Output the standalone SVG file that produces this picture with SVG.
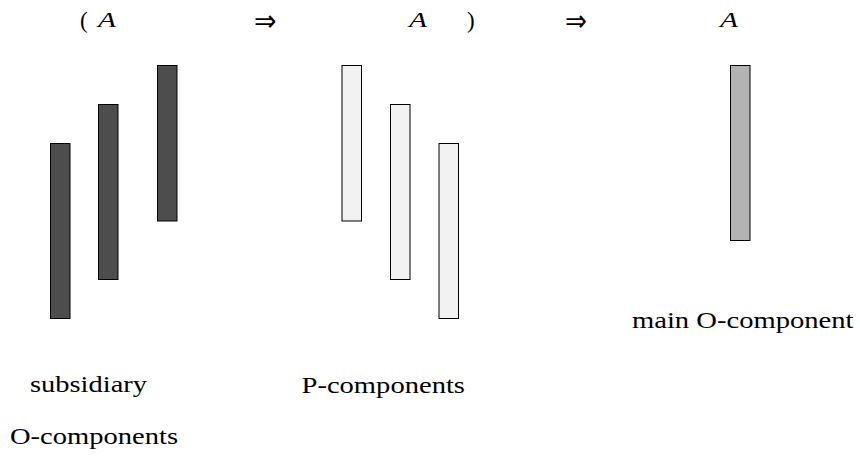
<svg xmlns="http://www.w3.org/2000/svg" width="860" height="457" viewBox="0 0 860 457">
<style>
text{font-family:"Liberation Serif","DejaVu Serif",serif;fill:#000;font-size:23px}
.m{font-style:italic;font-size:22px}
.arr{font-family:"DejaVu Sans",sans-serif;font-size:30px}
.bar{stroke:#000;stroke-width:1}
.dark{fill:#4d4d4d}
.light{fill:#f2f2f2}
.gray{fill:#b3b3b3}
</style>
<rect width="860" height="457" fill="#fff"/>
<g id="formula">
<text x="80" y="28">(</text>
<text class="m" x="98" y="27" textLength="18" lengthAdjust="spacingAndGlyphs">A</text>
<text class="arr" x="254" y="31" textLength="22.5" lengthAdjust="spacingAndGlyphs">⇒</text>
<text class="m" x="409" y="27" textLength="18" lengthAdjust="spacingAndGlyphs">A</text>
<text x="467" y="28">)</text>
<text class="arr" x="565" y="31" textLength="22" lengthAdjust="spacingAndGlyphs">⇒</text>
<text class="m" x="720" y="27" textLength="18" lengthAdjust="spacingAndGlyphs">A</text>
</g>
<g id="subsidiary-O-components">
<rect class="bar dark" x="50.5" y="143.5" width="19.5" height="175"/>
<rect class="bar dark" x="98.5" y="104.5" width="19.5" height="175"/>
<rect class="bar dark" x="157.5" y="65.5" width="19.5" height="155.5"/>
<text x="30" y="392" textLength="117" lengthAdjust="spacingAndGlyphs">subsidiary</text>
<text x="10" y="444" textLength="168" lengthAdjust="spacingAndGlyphs">O-components</text>
</g>
<g id="P-components">
<rect class="bar light" x="342" y="65.5" width="19.5" height="155.5"/>
<rect class="bar light" x="390.5" y="104.5" width="19.5" height="175"/>
<rect class="bar light" x="439" y="143.5" width="19.5" height="175"/>
<text x="301.5" y="392.5" textLength="163.5" lengthAdjust="spacingAndGlyphs">P-components</text>
</g>
<g id="main-O-component">
<rect class="bar gray" x="730.5" y="65.5" width="19.5" height="175"/>
<text x="632" y="328" textLength="221.5" lengthAdjust="spacingAndGlyphs">main O-component</text>
</g>
<g id="connectors"></g>
</svg>
